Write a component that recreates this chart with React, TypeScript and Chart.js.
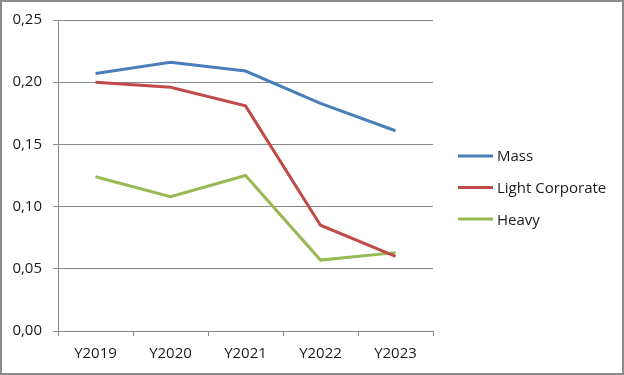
import React, { useEffect, useRef } from "react";
import { Chart, registerables } from "chart.js";

Chart.register(...registerables);

const categories = ["Y2019", "Y2020", "Y2021", "Y2022", "Y2023"];
const massValues = [0.207, 0.216, 0.209, 0.183, 0.161];
const lightCorporateValues = [0.2, 0.196, 0.181, 0.085, 0.06];
const heavyValues = [0.124, 0.108, 0.125, 0.057, 0.063];
const seriesNames = ["Mass", "Light Corporate", "Heavy"];
const seriesColors = ["#4A7EBB", "#BE4B48", "#98B954"];
const yMin = 0;
const yMax = 0.25;
const yStep = 0.05;

const FONT_FAMILY = "'Open Sans', 'Liberation Sans', sans-serif";
const FONT_SIZE = 15;
const GRID_COLOR = "#8a8a8a";
const TEXT_COLOR = "#1a1a1a";

const legendPlugin = {
  id: "rightLegend",
  afterDraw(chart: any) {
    const ctx = chart.ctx;
    const area = chart.chartArea;
    const lineStart = area.right + 25;
    const lineLen = 35;
    const spacing = 31.6;
    const n = chart.data.datasets.length;
    const centerY = chart.height / 2;
    ctx.save();
    ctx.font = `${FONT_SIZE}px ${FONT_FAMILY}`;
    ctx.textAlign = "left";
    ctx.textBaseline = "alphabetic";
    chart.data.datasets.forEach((ds: any, i: number) => {
      const y = centerY + (i - (n - 1) / 2) * spacing;
      ctx.strokeStyle = ds.borderColor;
      ctx.lineWidth = 3;
      ctx.lineCap = "butt";
      ctx.beginPath();
      ctx.moveTo(lineStart, y);
      ctx.lineTo(lineStart + lineLen, y);
      ctx.stroke();
      ctx.fillStyle = TEXT_COLOR;
      ctx.fillText(ds.label, lineStart + lineLen + 4, y + FONT_SIZE * 0.36);
    });
    ctx.restore();
  },
};

export default function App() {
  const canvasRef = useRef<HTMLCanvasElement | null>(null);

  useEffect(() => {
    if (!canvasRef.current) return;
    const seriesValues = [massValues, lightCorporateValues, heavyValues];
    const chart = new Chart(canvasRef.current, {
      type: "line",
      data: {
        labels: categories,
        datasets: seriesNames.map((name, i) => ({
          label: name,
          data: seriesValues[i],
          borderColor: seriesColors[i],
          backgroundColor: seriesColors[i],
          borderWidth: 3,
          pointRadius: 0,
          pointHoverRadius: 0,
          tension: 0,
          fill: false,
        })),
      },
      options: {
        animation: false,
        responsive: false,
        maintainAspectRatio: false,
        layout: { padding: { top: 19, right: 191, bottom: 0, left: 0 } },
        plugins: {
          legend: { display: false },
          tooltip: { enabled: false },
        },
        scales: {
          x: {
            type: "category",
            offset: true,
            grid: {
              offset: true,
              drawOnChartArea: false,
              drawTicks: true,
              tickLength: 5,
              color: GRID_COLOR,
              lineWidth: 1,
            },
            border: { display: true, color: GRID_COLOR, width: 1 },
            ticks: {
              color: TEXT_COLOR,
              font: { family: FONT_FAMILY, size: FONT_SIZE },
              padding: 9,
              maxRotation: 0,
            },
            afterFit: (scale: any) => {
              scale.height = 44;
            },
          },
          y: {
            min: yMin,
            max: yMax,
            grid: {
              color: GRID_COLOR,
              lineWidth: 1,
              drawTicks: true,
              tickLength: 5,
            },
            border: { display: true, color: GRID_COLOR, width: 1 },
            ticks: {
              stepSize: yStep,
              color: TEXT_COLOR,
              font: { family: FONT_FAMILY, size: FONT_SIZE },
              padding: 11,
              callback: (v: any) => Number(v).toFixed(2).replace(".", ","),
            },
            afterFit: (scale: any) => {
              scale.width = 58;
            },
          },
        },
      },
      plugins: [legendPlugin],
    });
    return () => chart.destroy();
  }, []);

  return (
    <div style={{ position: "absolute", left: 0, top: 0, width: 624, height: 375, background: "#fff" }}>
      <canvas ref={canvasRef} width={624} height={375} style={{ position: "absolute", left: 0, top: 0, width: 624, height: 375 }} />
      <div
        style={{
          position: "absolute",
          left: 0,
          top: 0,
          width: 624,
          height: 375,
          boxSizing: "border-box",
          border: "2px solid #8c8c8c",
          pointerEvents: "none",
        }}
      />
    </div>
  );
}
